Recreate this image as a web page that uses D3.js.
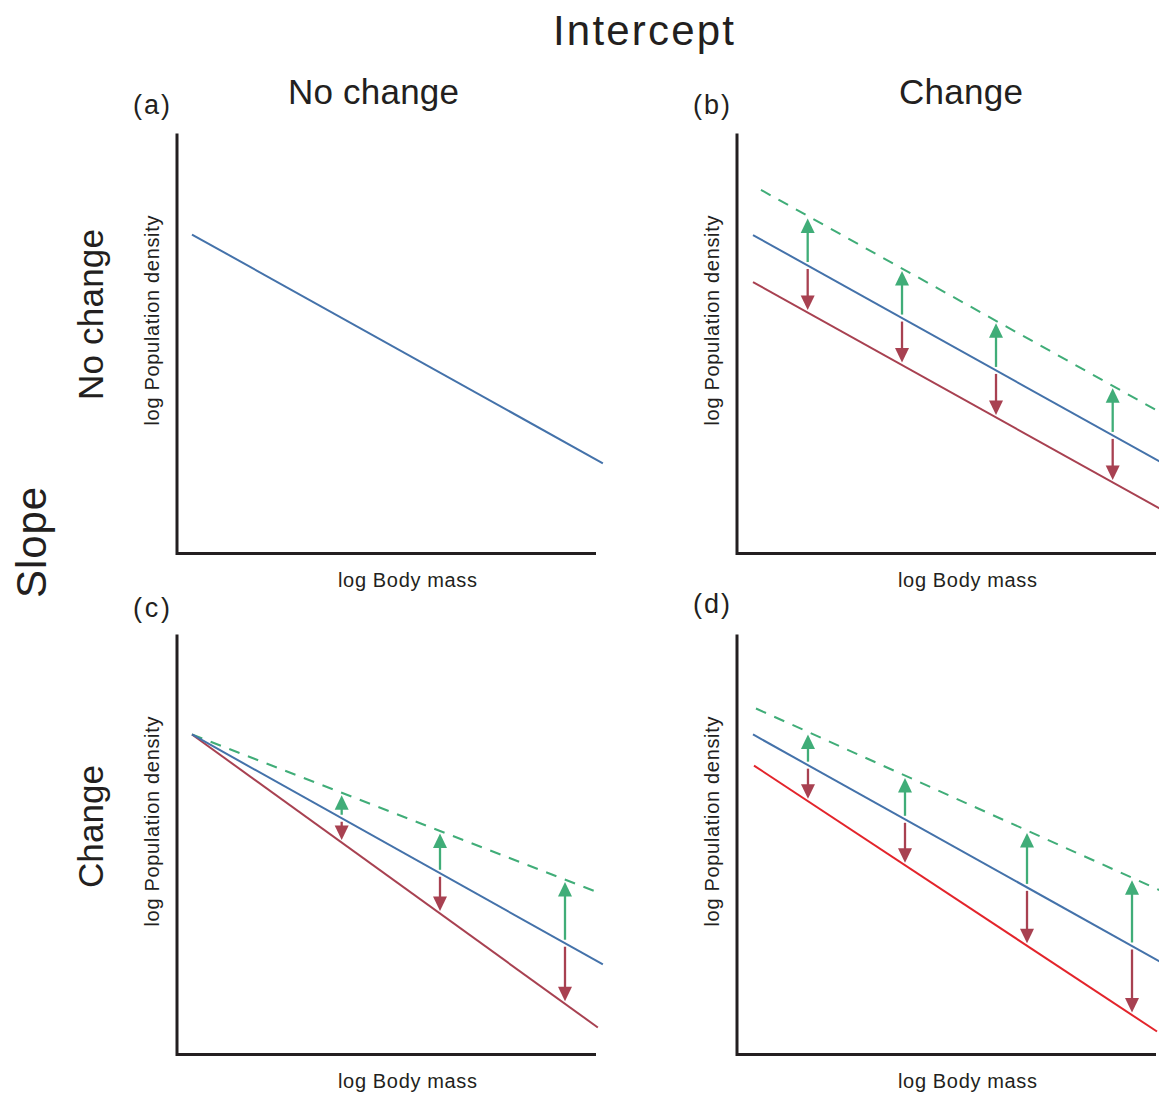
<!DOCTYPE html>
<html><head><meta charset="utf-8">
<script src="https://cdn.jsdelivr.net/npm/d3@7"></script>
<style>body{margin:0;background:#fff}svg{display:block}text{font-family:"Liberation Sans",Arial,sans-serif;fill:#231f20}</style>
</head><body>
<script>
// ---- data (data units: x 0..10, y 0..10 per panel) ----
const panelIds = ["a", "b", "c", "d"];
const panelLabels = ["(a)", "(b)", "(c)", "(d)"];
const colTitles = ["No change", "Change"];
const rowTitles = ["No change", "Change"];
const xLabel = "log Body mass";
const yLabel = "log Population density";
// lines: [x start, x end, intercept, slope]
const baseLine = {a: [0.357, 10.14, 7.794, -0.557], b: [0.381, 10.3, 7.794, -0.557], c: [0.357, 10.14, 7.819, -0.5596], d: [0.381, 10.3, 7.832, -0.558]};
const lowLine  = {b: [0.381, 10.3, 6.675, -0.557], c: [0.357, 10.02, 7.877, -0.722], d: [0.405, 10.0, 7.147, -0.660]};
const highLine = {b: [0.571, 10.3, 8.975, -0.557], c: [0.357, 10.02, 7.758, -0.389], d: [0.452, 10.3, 8.441, -0.450]};
const arrowX = {b: [1.683, 3.929, 6.167, 8.945], c: [3.921, 6.262, 9.238], d: [1.690, 4.0, 6.905, 9.405]};

const W = 1159, H = 1095;
const svg = d3.select("body").append("svg").attr("width", W).attr("height", H);
const ink = "#231f20";
const blue = "#4472aa", green = "#40ad78", darkRed = "#a84151", brightRed = "#e3242b";

// panel origins (axis corner, px)
const origins = {a: [177, 553.5], b: [737, 553.5], c: [177, 1054.5], d: [737, 1054.5]};
const lowColor = {b: darkRed, c: darkRed, d: brightRed};

// titles
svg.append("text").attr("x", 553).attr("y", 45).attr("font-size", 42).attr("textLength", 181).attr("lengthAdjust", "spacing").text("Intercept");
[[288, 171], [899, 124]].forEach((p, i) => {
  svg.append("text").attr("x", p[0]).attr("y", 104).attr("font-size", 35).attr("textLength", p[1]).attr("lengthAdjust", "spacing").text(colTitles[i]);
});
svg.append("text").attr("transform", "translate(46,598) rotate(-90)").attr("font-size", 42).attr("textLength", 111).attr("lengthAdjust", "spacing").text("Slope");
[[400, 171], [888, 123]].forEach((p, i) => {
  svg.append("text").attr("transform", `translate(103,${p[0]}) rotate(-90)`).attr("font-size", 35).attr("textLength", p[1]).attr("lengthAdjust", "spacing").text(rowTitles[i]);
});

panelIds.forEach((id, i) => {
  const [ox, oy] = origins[id];
  const x = d3.scaleLinear().domain([0, 10]).range([ox, ox + 420]);
  const y = d3.scaleLinear().domain([0, 10]).range([oy, oy - 420]);
  const g = svg.append("g");

  // panel letter
  g.append("text").attr("x", ox - 44).attr("y", oy - 440 + (id === "c" ? 2 : id === "d" ? -2 : 0)).attr("font-size", 27).attr("textLength", 37).attr("lengthAdjust", "spacing").text(panelLabels[i]);

  // axes
  g.append("path").attr("d", `M${x(0)},${y(10)}V${y(0)}H${x(10) - 1}`).attr("fill", "none").attr("stroke", ink).attr("stroke-width", 3);
  g.append("text").attr("x", x(0) + 161).attr("y", oy + 33).attr("font-size", 20).attr("textLength", 139).attr("lengthAdjust", "spacing").text(xLabel);
  g.append("text").attr("transform", `translate(${ox - 18},${oy - 128}) rotate(-90)`).attr("font-size", 20).attr("textLength", 210).attr("lengthAdjust", "spacing").text(yLabel);

  const lineGen = (L) => d3.line().x(d => x(d)).y(d => y(L[2] + L[3] * d))([L[0], L[1]]);
  const f = (L, xv) => L[2] + L[3] * xv;

  if (highLine[id]) g.append("path").attr("d", lineGen(highLine[id])).attr("fill", "none").attr("stroke", green).attr("stroke-width", 2).attr("stroke-dasharray", "11,9");
  if (lowLine[id]) g.append("path").attr("d", lineGen(lowLine[id])).attr("fill", "none").attr("stroke", lowColor[id]).attr("stroke-width", 2);
  g.append("path").attr("d", lineGen(baseLine[id])).attr("fill", "none").attr("stroke", blue).attr("stroke-width", 2);

  // arrows
  (arrowX[id] || []).forEach(xv => {
    const px = x(xv);
    const yb = y(f(baseLine[id], xv));
    const yh = y(f(highLine[id], xv)) + 2.5;
    const yl = y(f(lowLine[id], xv)) - 2.5;
    const head = 14.5, hw = 7;
    // up (green)
    g.append("line").attr("x1", px).attr("x2", px).attr("y1", yb - 3.5).attr("y2", yh + head - 1).attr("stroke", green).attr("stroke-width", 2.3);
    g.append("path").attr("d", `M${px},${yh}L${px - hw},${yh + head}L${px + hw},${yh + head}Z`).attr("fill", green);
    // down (red)
    g.append("line").attr("x1", px).attr("x2", px).attr("y1", yb + 3.5).attr("y2", yl - head + 1).attr("stroke", darkRed).attr("stroke-width", 2.3);
    g.append("path").attr("d", `M${px},${yl}L${px - hw},${yl - head}L${px + hw},${yl - head}Z`).attr("fill", darkRed);
  });
});
</script>
</body></html>
